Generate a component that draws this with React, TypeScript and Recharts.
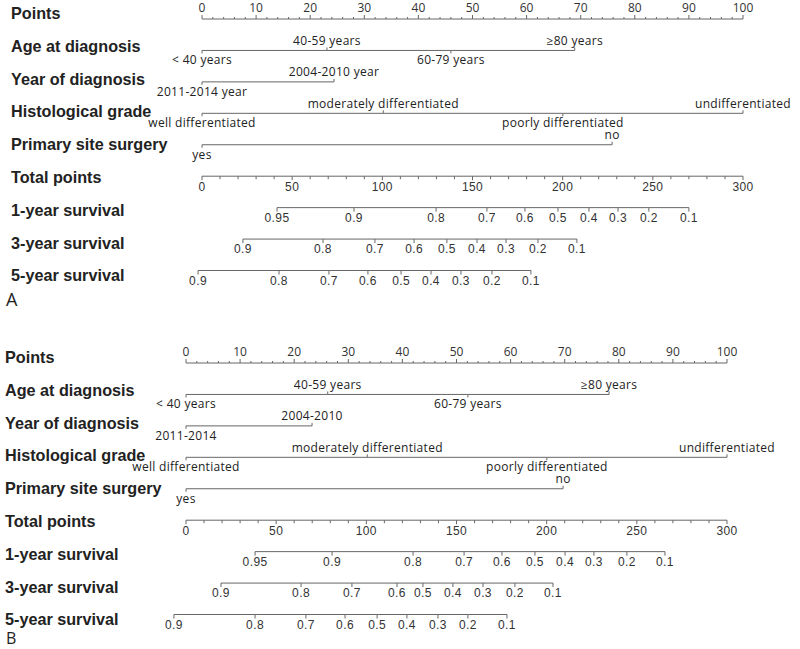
import React from 'react';
import { LineChart, Line, XAxis, YAxis } from 'recharts';

const rowNames = [
  'Points',
  'Age at diagnosis',
  'Year of diagnosis',
  'Histological grade',
  'Primary site surgery',
  'Total points',
  '1-year survival',
  '3-year survival',
  '5-year survival',
];

// axis tick labels
const pointTicks = [0, 10, 20, 30, 40, 50, 60, 70, 80, 90, 100];
const totalTicks = [0, 50, 100, 150, 200, 250, 300];

// predictors (points)
const ageLevels = ['< 40 years', '40-59 years', '60-79 years', '≥80 years'];
const agePointsA = [0, 23.1, 46.0, 68.9];
const agePointsB = [0, 26.2, 52.1, 78.2];

const yearLevelsA = ['2011-2014 year', '2004-2010 year'];
const yearLevelsB = ['2011-2014', '2004-2010'];
const yearPointsA = [0, 24.4];
const yearPointsB = [0, 23.3];

const gradeLevels = ['well differentiated', 'moderately differentiated', 'poorly differentiated', 'undifferentiated'];
const gradePointsA = [0, 33.5, 66.7, 100];
const gradePointsB = [0, 33.5, 66.7, 100];

const surgeryLevels = ['yes', 'no'];
const surgeryPointsA = [0, 75.8];
const surgeryPointsB = [0, 69.7];

// survival scales (total points at each probability)
const surv1Labels = ['0.95', '0.9', '0.8', '0.7', '0.6', '0.5', '0.4', '0.3', '0.2', '0.1'];
const surv1TotalA = [41.6, 84.3, 129.8, 158.0, 179.1, 197.4, 214.6, 230.7, 247.8, 270.0];
const surv1TotalB = [38.3, 81.0, 125.9, 154.2, 175.2, 193.5, 210.2, 226.2, 244.5, 265.6];

const surv35Labels = ['0.9', '0.8', '0.7', '0.6', '0.5', '0.4', '0.3', '0.2', '0.1'];
const surv3TotalA = [22.7, 67.1, 95.9, 117.6, 135.8, 152.5, 168.6, 186.3, 207.9];
const surv3TotalB = [19.4, 63.8, 92.0, 117.0, 131.4, 148.0, 164.7, 182.4, 203.5];
const surv5TotalA = [-2.2, 42.7, 70.4, 92.0, 110.4, 127.0, 143.6, 160.8, 182.4];
const surv5TotalB = [-6.7, 38.3, 66.5, 88.2, 106.0, 122.5, 139.7, 156.3, 178.0];

const PT_DOMAIN = [-10, 105];
const TOT_DOMAIN = [-30, 315];
const LINE = '#666';
const TEXT = '#222';

type Mark = { x: number; y: number; kind: string; label?: string; side?: string; major?: boolean };
type Row = { axis: string; data: Mark[] };

function scaleRow(row: number, kind: string, step: number, max: number, labelled: number[]): Mark[] {
  const out: Mark[] = [];
  for (let v = 0; v <= max; v += step) {
    const major = labelled.includes(v);
    out.push({ x: v, y: row, kind, major, label: major ? String(v) : undefined });
  }
  return out;
}

function catRow(row: number, levels: string[], pts: number[]): Mark[] {
  return levels
    .map((l, i) => ({ x: pts[i], y: row, kind: 'cat', label: l, side: i % 2 ? 'up' : 'down' }))
    .sort((a, b) => a.x - b.x);
}

function survRow(row: number, labels: string[], totals: number[]): Mark[] {
  return labels.map((l, i) => ({ x: totals[i], y: row, kind: 'surv', label: l }));
}

function buildRows(age: number[], yearLv: string[], year: number[], grade: number[], surg: number[], s1: number[], s3: number[], s5: number[]): Row[] {
  return [
    { axis: 'pts', data: scaleRow(0, 'pts', 2, 100, pointTicks) },
    { axis: 'pts', data: catRow(1, ageLevels, age) },
    { axis: 'pts', data: catRow(2, yearLv, year) },
    { axis: 'pts', data: catRow(3, gradeLevels, grade) },
    { axis: 'pts', data: catRow(4, surgeryLevels, surg) },
    { axis: 'tot', data: scaleRow(5, 'tot', 10, 300, totalTicks) },
    { axis: 'tot', data: survRow(6, surv1Labels, s1) },
    { axis: 'tot', data: survRow(7, surv35Labels, s3) },
    { axis: 'tot', data: survRow(8, surv35Labels, s5) },
  ];
}

const rowsA = buildRows(agePointsA, yearLevelsA, yearPointsA, gradePointsA, surgeryPointsA, surv1TotalA, surv3TotalA, surv5TotalA);
const rowsB = buildRows(agePointsB, yearLevelsB, yearPointsB, gradePointsB, surgeryPointsB, surv1TotalB, surv3TotalB, surv5TotalB);

function TickMark(props: any) {
  const { cx, cy, payload, index } = props;
  if (cx == null || cy == null) return <g key={index} />;
  const m: Mark = payload;
  if (m.kind === 'pts') {
    const len = m.major ? 4 : 2;
    return (
      <g key={index}>
        <line x1={cx} y1={cy} x2={cx} y2={cy - len} stroke={LINE} strokeWidth={1} />
        {m.label && (
          <text x={cx} y={cy - 7} textAnchor="middle" fontFamily="'Open Sans', sans-serif" fontSize={12} fill="#333">
            {m.label}
          </text>
        )}
      </g>
    );
  }
  if (m.kind === 'tot') {
    const len = m.major ? 4 : 3;
    return (
      <g key={index}>
        <line x1={cx} y1={cy} x2={cx} y2={cy + len} stroke={LINE} strokeWidth={1} />
        {m.label && (
          <text x={cx} y={cy + 14.5} textAnchor="middle" fontFamily="'Liberation Sans', Arial, sans-serif" fontSize={12} letterSpacing={0.4} fill="#333">
            {m.label}
          </text>
        )}
      </g>
    );
  }
  if (m.kind === 'cat') {
    const up = m.side === 'up';
    return (
      <g key={index}>
        <line x1={cx} y1={cy} x2={cx} y2={up ? cy - 3 : cy + 3} stroke={LINE} strokeWidth={1} />
        <text x={cx} y={up ? cy - 5.5 : cy + 14} textAnchor="middle" fontFamily="'Open Sans', sans-serif" fontSize={12} letterSpacing={0.3} fill={TEXT}>
          {m.label}
        </text>
      </g>
    );
  }
  return (
    <g key={index}>
      <line x1={cx} y1={cy} x2={cx} y2={cy + 4} stroke={LINE} strokeWidth={1} />
      <text x={cx} y={cy + 14} textAnchor="middle" fontFamily="'Liberation Sans', Arial, sans-serif" fontSize={12} letterSpacing={0.4} fill="#333">
        {m.label}
      </text>
    </g>
  );
}

function Nomogram({ rows, x0, x100, labelX }: { rows: Row[]; x0: number; x100: number; labelX: number }) {
  const W = 800;
  const H = 300;
  const top = 19;
  const plotH = 251.5;
  const ppu = (x100 - x0) / 100;
  const plotLeft = x0 + PT_DOMAIN[0] * ppu;
  const plotRight = x0 + PT_DOMAIN[1] * ppu;

  const renderLabel = (p: any) => {
    const i = p.payload.value;
    return (
      <text
        key={i}
        x={labelX}
        y={p.y + 1.35 * i}
        textAnchor="start"
        fontFamily="'Liberation Sans', Arial, sans-serif"
        fontWeight="bold"
        fontSize={16.2}
        fill={TEXT}
      >
        {rowNames[i]}
      </text>
    );
  };

  return (
    <LineChart width={W} height={H} margin={{ top, right: W - plotRight, bottom: H - top - plotH, left: 0 }}>
      <XAxis xAxisId="pts" type="number" dataKey="x" domain={PT_DOMAIN} hide />
      <XAxis xAxisId="tot" type="number" dataKey="x" domain={TOT_DOMAIN} hide />
      <YAxis
        yAxisId="r"
        type="number"
        domain={[0, 8]}
        ticks={[0, 1, 2, 3, 4, 5, 6, 7, 8]}
        interval={0}
        reversed
        width={plotLeft}
        axisLine={false}
        tickLine={false}
        tick={renderLabel}
      />
      {rows.map((r, i) => (
        <Line
          key={i}
          data={r.data}
          dataKey="y"
          xAxisId={r.axis}
          yAxisId="r"
          type="linear"
          stroke={LINE}
          strokeWidth={1}
          dot={(p: any) => <TickMark {...p} key={p.index} />}
          activeDot={false}
          isAnimationActive={false}
        />
      ))}
    </LineChart>
  );
}

export default function App() {
  return (
    <div style={{ position: 'absolute', left: 0, top: 0, width: 800, height: 649, background: '#fff', overflow: 'hidden' }}>
      <div style={{ position: 'absolute', left: 0, top: 0 }}>
        <Nomogram rows={rowsA} x0={202} x100={743} labelX={11} />
      </div>
      <div style={{ position: 'absolute', left: 0, top: 344 }}>
        <Nomogram rows={rowsB} x0={186} x100={727} labelX={5} />
      </div>
      <svg width={800} height={649} style={{ position: 'absolute', left: 0, top: 0, pointerEvents: 'none' }}>
        <text x={6} y={306} fontFamily="'Open Sans', sans-serif" fontSize={18} fill={TEXT}>A</text>
        <text x={6} y={644} fontFamily="'Open Sans', sans-serif" fontSize={16} fill={TEXT}>B</text>
      </svg>
    </div>
  );
}
